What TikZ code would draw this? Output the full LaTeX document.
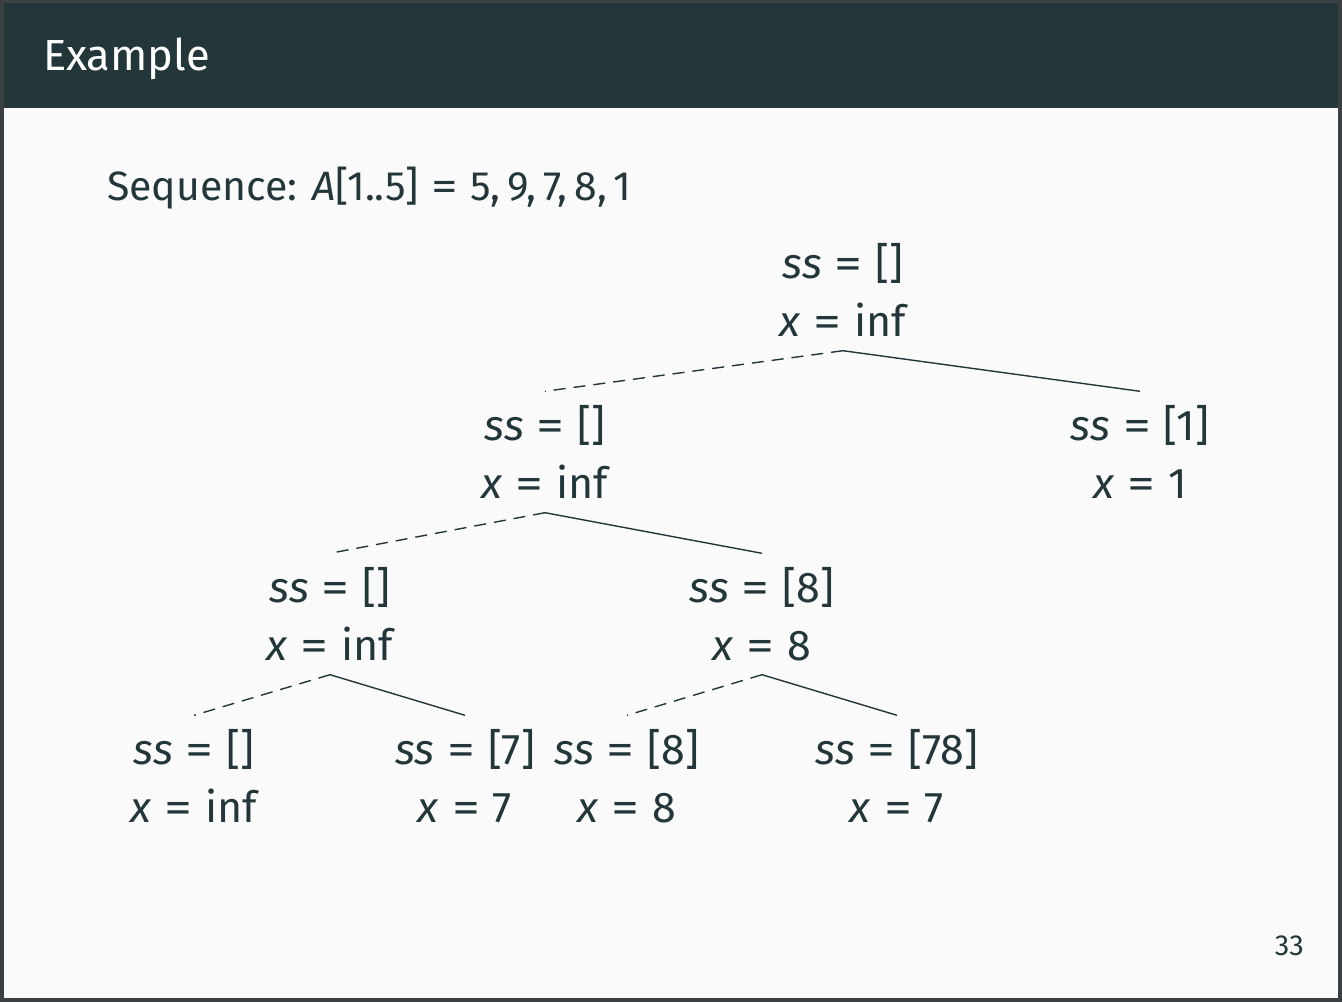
\documentclass[tikz,border=0pt]{standalone}
\usepackage{fontspec}
\setmainfont{Fira Sans}
\usetikzlibrary{positioning}
\definecolor{mDarkTeal}{HTML}{23373B}
\definecolor{mBg}{HTML}{FAFAFA}
\definecolor{mFrame}{HTML}{3C3F41}
\newcommand{\eqsign}{\hspace{0.3em}\scalebox{1.3}[1]{=}\hspace{0.3em}}
\newcommand{\ssx}[2]{\textit{ss}\eqsign[#1]\\\textit{x}\eqsign#2}

\begin{document}
\begin{tikzpicture}[x=1pt,y=-1pt,
  call/.style={align=center, text=mDarkTeal, font=\fontsize{43}{58}\selectfont, minimum height=121pt, inner sep=0pt},
  take/.style={draw=mDarkTeal, line width=1.4pt},
  skip/.style={draw=mDarkTeal, line width=1.4pt, dash pattern=on 12pt off 8pt}]
  % frame, slide and title bar
  \fill[mFrame] (0,0) rectangle (1342,1002);
  \fill[mBg] (4,3) rectangle (1338,998);
  \fill[mDarkTeal] (4,3) rectangle (1338,108);
  \node[anchor=base west, inner sep=0pt, text=white, font=\fontsize{43.5}{52}\selectfont] (title) at (43,70) {Example};
  \node[anchor=base west, inner sep=0pt, text=mDarkTeal, font=\fontsize{41}{50}\selectfont] (seq) at (107,200) {Sequence: \textit{A}[1..5]\eqsign5,\,9,\,7,\,8,\,1};
  \node[anchor=base east, inner sep=0pt, text=mDarkTeal, font=\fontsize{29}{35}\selectfont] (pageno) at (1304,955) {33};

  % recursion tree
  \node[call] (root) at (843,290) {\ssx{}{inf}};
  \node[call] (l) at (545,452) {\ssx{}{inf}};
  \node[call] (r) at (1140,452) {\ssx{1}{1}};
  \node[call] (ll) at (330,614) {\ssx{}{inf}};
  \node[call] (lr) at (762,614) {\ssx{8}{8}};
  \node[call] (lll) at (194,776) {\ssx{}{inf}};
  \node[call] (llr) at (465,776) {\ssx{7}{7}};
  \node[call] (lrl) at (627,776) {\ssx{8}{8}};
  \node[call] (lrr) at (897,776) {\ssx{78}{7}};

  % skip = dashed, take = solid
  \draw[skip] (root.south) -- (l.north);
  \draw[take] (root.south) -- (r.north);
  \draw[skip] (l.south) -- (ll.north);
  \draw[take] (l.south) -- (lr.north);
  \draw[skip] (ll.south) -- (lll.north);
  \draw[take] (ll.south) -- (llr.north);
  \draw[skip] (lr.south) -- (lrl.north);
  \draw[take] (lr.south) -- (lrr.north);
\end{tikzpicture}
\end{document}
